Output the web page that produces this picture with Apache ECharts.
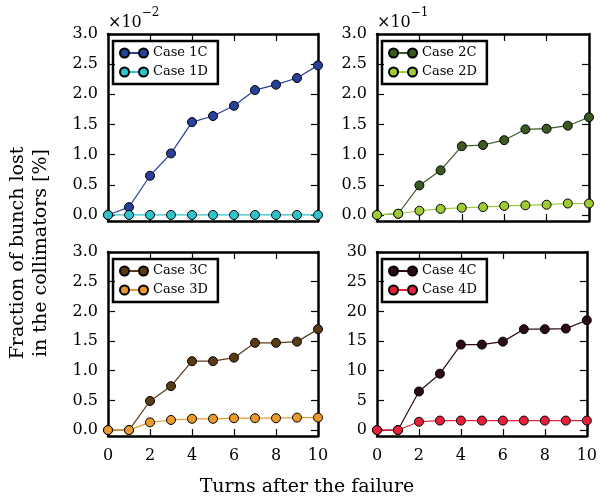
<!DOCTYPE html>
<html lang="en">
<head>
    <meta charset="UTF-8">
    <title>Fraction of bunch lost</title>
    <script src="https://cdn.jsdelivr.net/npm/echarts@6/dist/echarts.min.js"></script>
</head>
<body style="margin:0">
    <div id="main" style="width:600px;height:497px;"></div>
    <script>
        // data
        var turns = [0, 1, 2, 3, 4, 5, 6, 7, 8, 9, 10];
        var case1C = [0.0, 0.13, 0.65, 1.02, 1.54, 1.64, 1.81, 2.07, 2.16, 2.27, 2.48];
        var case1D = [0, 0, 0, 0, 0, 0, 0, 0, 0, 0, 0];
        var case2C = [0.0, 0.02, 0.49, 0.74, 1.14, 1.16, 1.24, 1.42, 1.43, 1.48, 1.62];
        var case2D = [0.0, 0.02, 0.07, 0.10, 0.12, 0.13, 0.15, 0.16, 0.17, 0.19, 0.19];
        var case3C = [0.0, 0.0, 0.49, 0.74, 1.16, 1.16, 1.22, 1.47, 1.47, 1.49, 1.70];
        var case3D = [0.0, 0.0, 0.13, 0.17, 0.19, 0.19, 0.20, 0.20, 0.20, 0.21, 0.21];
        var case4C = [0, 0, 6.5, 9.5, 14.4, 14.4, 14.9, 17.0, 17.0, 17.1, 18.5];
        var case4D = [0, 0, 1.4, 1.6, 1.6, 1.6, 1.6, 1.6, 1.6, 1.6, 1.6];
        var yTicksSmall = [0, 0.5, 1, 1.5, 2, 2.5, 3];
        var yTicksLarge = [0, 5, 10, 15, 20, 25, 30];

        var font = 'DejaVu Serif';
        var panels = [
            { left: 108, top: 34, width: 210, height: 187, ymin: -0.1, ymax: 3, ticks: yTicksSmall, dec: 1, scale: '-2', xlabels: false,
              names: ['Case 1C', 'Case 1D'], data: [case1C, case1D], colors: ['#27409b', '#2fc3cc'] },
            { left: 377, top: 34, width: 212, height: 187, ymin: -0.1, ymax: 3, ticks: yTicksSmall, dec: 1, scale: '-1', xlabels: false,
              names: ['Case 2C', 'Case 2D'], data: [case2C, case2D], colors: ['#3a5a22', '#9ccc32'] },
            { left: 108, top: 252, width: 210, height: 184, ymin: -0.1, ymax: 3, ticks: yTicksSmall, dec: 1, scale: null, xlabels: true,
              names: ['Case 3C', 'Case 3D'], data: [case3C, case3D], colors: ['#5a3a14', '#eb9a2c'] },
            { left: 377, top: 252, width: 212, height: 184, ymin: -1, ymax: 30, ticks: yTicksLarge, dec: 0, scale: null, xlabels: true,
              names: ['Case 4C', 'Case 4D'], data: [case4C, case4D], colors: ['#2c0c12', '#e8203a'] }
        ];

        var line = { show: true, onZero: false, lineStyle: { color: '#000', width: 2.5 } };
        var tick = { show: true, inside: true, length: 7, lineStyle: { color: '#000', width: 1.2 } };
        var twoDots = 'path://M0,4.5A4.5,4.5,0,1,1,9,4.5A4.5,4.5,0,1,1,0,4.5Z M19,4.5A4.5,4.5,0,1,1,28,4.5A4.5,4.5,0,1,1,19,4.5Z';

        var grid = [], xAxis = [], yAxis = [], series = [], legend = [];
        panels.forEach(function (p, i) {
            grid.push({ left: p.left, top: p.top, width: p.width, height: p.height });
            xAxis.push({
                type: 'value', gridIndex: i, min: 0, max: 10, interval: 2, position: 'bottom',
                axisLine: line, axisTick: tick, splitLine: { show: false },
                axisLabel: { show: p.xlabels, margin: 12, color: '#000', fontSize: 16, fontFamily: font }
            });
            xAxis.push({
                type: 'value', gridIndex: i, min: 0, max: 10, interval: 2, position: 'top',
                axisLine: line, axisTick: tick, splitLine: { show: false }, axisLabel: { show: false }
            });
            var yl = {
                type: 'value', gridIndex: i, min: p.ymin, max: p.ymax, position: 'left',
                axisLine: line, splitLine: { show: false },
                axisTick: Object.assign({ customValues: p.ticks }, tick),
                axisLabel: {
                    customValues: p.ticks, margin: 10, color: '#000', fontSize: 16, fontFamily: font,
                    formatter: function (v) { return v.toFixed(p.dec); }
                }
            };
            if (p.scale) {
                yl.name = '{m|\u00d710}{e|\u2212' + p.scale.slice(1) + '}';
                yl.nameLocation = 'end';
                yl.nameGap = 3;
                yl.nameTextStyle = {
                    align: 'left', verticalAlign: 'bottom',
                    rich: {
                        m: { fontSize: 16, fontFamily: font, color: '#000', lineHeight: 24, verticalAlign: 'bottom' },
                        e: { fontSize: 12, fontFamily: font, color: '#000', lineHeight: 14, verticalAlign: 'top' }
                    }
                };
            }
            yAxis.push(yl);
            yAxis.push({
                type: 'value', gridIndex: i, min: p.ymin, max: p.ymax, position: 'right',
                axisLine: line, splitLine: { show: false },
                axisTick: Object.assign({ customValues: p.ticks }, tick),
                axisLabel: { show: false }
            });
            p.names.forEach(function (name, k) {
                series.push({
                    name: name, type: 'line', xAxisIndex: 2 * i, yAxisIndex: 2 * i,
                    data: turns.map(function (t, j) { return [t, p.data[k][j]]; }),
                    symbol: 'circle', symbolSize: 9, clip: false,
                    color: p.colors[k],
                    lineStyle: { color: p.colors[k], width: 1.2 },
                    itemStyle: { color: p.colors[k], borderColor: '#000', borderWidth: 1 },
                    z: 3 + k
                });
            });
            var lg = {
                orient: 'vertical', left: p.left + 5, top: p.top + 7,
                itemWidth: 28, itemHeight: 9, itemGap: 5, itemTextGap: 11,
                padding: [5, 10, 5, 6], selectedMode: false,
                textStyle: { fontSize: 13, fontFamily: font, color: '#000', lineHeight: 14 },
                data: p.names
            };
            // colored connector line drawn underneath
            legend.push(Object.assign({}, lg, {
                itemStyle: { opacity: 0 },
                textStyle: Object.assign({}, lg.textStyle, { color: 'rgba(0,0,0,0)' }),
                z: 4
            }));
            // the two dots, the text and the frame
            legend.push(Object.assign({}, lg, {
                icon: twoDots,
                borderColor: '#000', borderWidth: 2.5,
                z: 5
            }));
        });

        var myChart = echarts.init(document.getElementById('main'));
        myChart.setOption({
            animation: false,
            grid: grid,
            xAxis: xAxis,
            yAxis: yAxis,
            legend: legend,
            series: series,
            graphic: [
                {
                    type: 'text', x: 30, y: 253, rotation: Math.PI / 2,
                    style: {
                        text: 'Fraction of bunch lost\nin the collimators [%]',
                        font: '19px "DejaVu Serif"', fill: '#000', lineHeight: 23,
                        align: 'center', verticalAlign: 'middle'
                    }
                },
                {
                    type: 'text', x: 307, y: 487,
                    style: {
                        text: 'Turns after the failure',
                        font: '19px "DejaVu Serif"', fill: '#000',
                        align: 'center', verticalAlign: 'middle'
                    }
                }
            ]
        });
    </script>
</body>
</html>
